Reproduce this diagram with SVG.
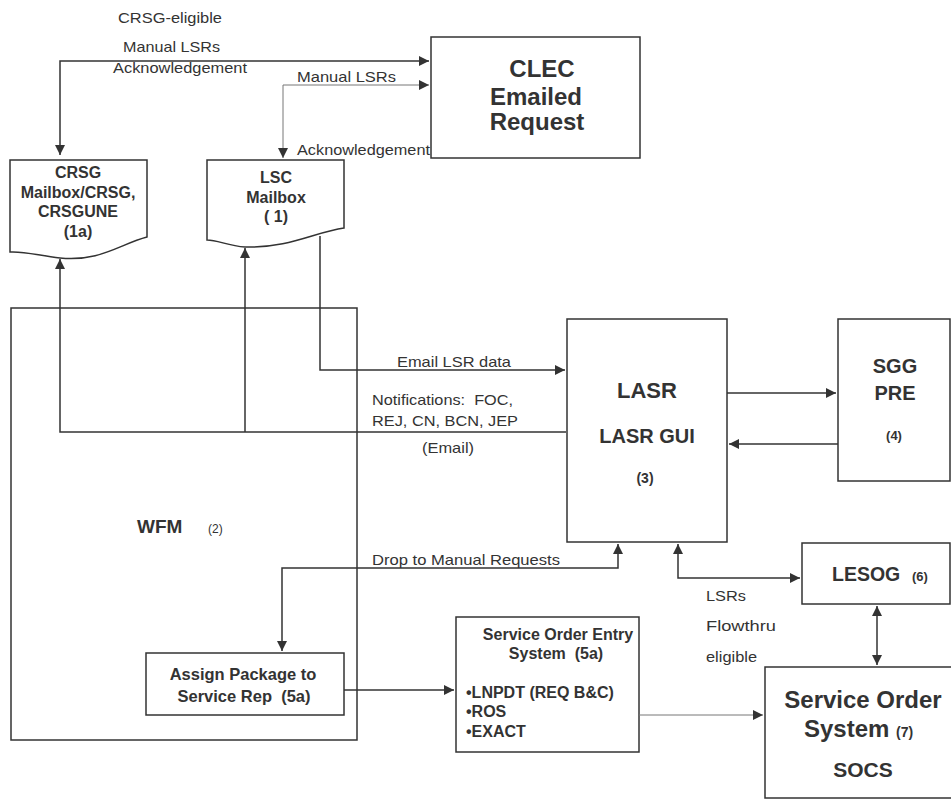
<svg xmlns="http://www.w3.org/2000/svg" width="951" height="800" viewBox="0 0 951 800">
<style>
.box{fill:#fff;stroke:#333;stroke-width:1.5}
.ln{fill:none;stroke:#333;stroke-width:1.5}
.lt{fill:none;stroke:#777;stroke-width:1}
text{font-family:"Liberation Sans",Arial,sans-serif;fill:#333;white-space:pre}
.b{font-weight:bold}
.lbl{font-size:15px}
</style>
<defs>
<marker id="ah" viewBox="0 0 10 10" refX="10" refY="5" markerWidth="10" markerHeight="10" markerUnits="userSpaceOnUse" orient="auto-start-reverse"><path d="M0,0 L10,5 L0,10 z" fill="#333"/></marker>
</defs>
<rect width="951" height="800" fill="#fff"/>
<g id="wfm"><rect class="box" x="11" y="308" width="346" height="432"/>
<text x="137" y="533" class="b" font-size="19">WFM</text><text x="208" y="533" font-size="12">(2)</text></g>
<g id="clec"><rect class="box" x="431" y="37" width="209" height="121"/>
<text x="542" y="77" text-anchor="middle" class="b" font-size="24">CLEC</text>
<text x="536" y="105" text-anchor="middle" class="b" font-size="24">Emailed</text>
<text x="537" y="130" text-anchor="middle" class="b" font-size="24">Request</text></g>
<g id="crsg"><path class="box" d="M10,160 H147 V237 C120,244 100,262 60,258 C40,256 25,251 10,252 Z"/>
<g class="b" font-size="16" text-anchor="middle"><text x="78" y="178">CRSG</text><text x="78" y="198">Mailbox/CRSG,</text><text x="78" y="217">CRSGUNE</text><text x="78" y="237">(1a)</text></g></g>
<g id="lsc"><path class="box" d="M207,160 H344 V228 C315,232 290,248 245,247 C228,246 218,240 207,240 Z"/>
<g class="b" font-size="16" text-anchor="middle"><text x="276" y="183">LSC</text><text x="276" y="203">Mailbox</text><text x="276" y="222">( 1)</text></g></g>
<g id="lasr"><rect class="box" x="567" y="319" width="160" height="223"/>
<text x="647" y="398" text-anchor="middle" class="b" font-size="22">LASR</text>
<text x="647" y="443" text-anchor="middle" class="b" font-size="20">LASR GUI</text>
<text x="645" y="483" text-anchor="middle" class="b" font-size="14">(3)</text></g>
<g id="sgg"><rect class="box" x="838" y="319" width="112" height="162"/>
<text x="895" y="373" text-anchor="middle" class="b" font-size="20">SGG</text>
<text x="895" y="400" text-anchor="middle" class="b" font-size="20">PRE</text>
<text x="894" y="440" text-anchor="middle" class="b" font-size="13">(4)</text></g>
<g id="lesog"><rect class="box" x="802" y="543" width="148" height="61"/>
<text x="832" y="581" class="b" font-size="19.5">LESOG</text><text x="912" y="581" class="b" font-size="13">(6)</text></g>
<g id="assign"><rect class="box" x="146" y="653" width="198" height="62"/>
<text x="243" y="680" text-anchor="middle" class="b" font-size="16.5">Assign Package to</text>
<text x="244" y="702" text-anchor="middle" class="b" font-size="16.5">Service Rep  (5a)</text></g>
<g id="soe"><rect class="box" x="456" y="617" width="183" height="135"/>
<text x="558" y="640" text-anchor="middle" class="b" font-size="16">Service Order Entry</text>
<text x="556" y="659" text-anchor="middle" class="b" font-size="16">System  (5a)</text>
<text x="466" y="698" class="b" font-size="16">•LNPDT (REQ B&amp;C)</text>
<text x="466" y="717" class="b" font-size="16">•ROS</text>
<text x="466" y="737" class="b" font-size="16">•EXACT</text></g>
<g id="sos"><rect class="box" x="765" y="667" width="190" height="131"/>
<text x="863" y="708" text-anchor="middle" class="b" font-size="24">Service Order</text>
<text x="804" y="737" class="b" font-size="24">System</text><text x="896" y="737" class="b" font-size="14">(7)</text>
<text x="863" y="777" text-anchor="middle" class="b" font-size="21">SOCS</text></g>
<g id="connectors">
<path class="ln" d="M60,155 V61 H429" marker-start="url(#ah)" marker-end="url(#ah)"/>
<path class="lt" d="M283,158 V85 H429" marker-start="url(#ah)" marker-end="url(#ah)"/>
<path class="ln" d="M566,432 H60 V259" marker-end="url(#ah)"/>
<path class="ln" d="M245,432 V248" marker-end="url(#ah)"/>
<path class="ln" d="M320,236 V370 H565" marker-end="url(#ah)"/>
<path class="ln" d="M727,393 H836" marker-end="url(#ah)"/>
<path class="ln" d="M838,444 H729" marker-end="url(#ah)"/>
<path class="ln" d="M618,544 V568 H282 V651" marker-start="url(#ah)" marker-end="url(#ah)"/>
<path class="ln" d="M678,544 V578 H800" marker-start="url(#ah)" marker-end="url(#ah)"/>
<path class="ln" d="M877,606 V665" marker-start="url(#ah)" marker-end="url(#ah)"/>
<path class="ln" d="M344,690 H454" stroke-width="2.2" marker-end="url(#ah)"/>
<path class="lt" d="M639,715 H763" marker-end="url(#ah)"/>
</g>
<g class="lbl">
<text x="118" y="23" textLength="104" lengthAdjust="spacingAndGlyphs">CRSG-eligible</text>
<text x="123" y="52" textLength="97" lengthAdjust="spacingAndGlyphs">Manual LSRs</text>
<text x="113" y="73" textLength="134" lengthAdjust="spacingAndGlyphs">Acknowledgement</text>
<text x="297" y="82" textLength="99" lengthAdjust="spacingAndGlyphs">Manual LSRs</text>
<text x="297" y="155" textLength="133" lengthAdjust="spacingAndGlyphs">Acknowledgement</text>
<text x="397" y="367" textLength="114" lengthAdjust="spacingAndGlyphs">Email LSR data</text>
<text x="372" y="405" textLength="141" lengthAdjust="spacingAndGlyphs">Notifications:  FOC,</text>
<text x="372" y="426" textLength="146" lengthAdjust="spacingAndGlyphs">REJ, CN, BCN, JEP</text>
<text x="422" y="453" textLength="52" lengthAdjust="spacingAndGlyphs">(Email)</text>
<text x="372" y="565" textLength="188" lengthAdjust="spacingAndGlyphs">Drop to Manual Requests</text>
<text x="706" y="601" textLength="40" lengthAdjust="spacingAndGlyphs">LSRs</text>
<text x="706" y="631" textLength="70" lengthAdjust="spacingAndGlyphs">Flowthru</text>
<text x="706" y="662" textLength="51" lengthAdjust="spacingAndGlyphs">eligible</text>
</g>
</svg>
